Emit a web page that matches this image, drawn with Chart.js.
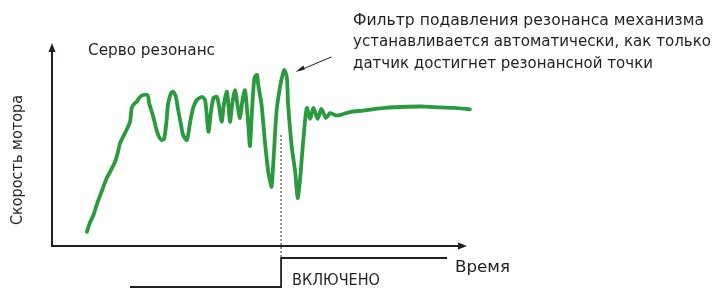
<!DOCTYPE html>
<html>
<head>
<meta charset="utf-8">
<script src="https://cdn.jsdelivr.net/npm/chart.js@4/dist/chart.umd.min.js"></script>
<style>
  html, body { margin: 0; padding: 0; background: #fff; }
  #wrap { width: 728px; height: 289px; position: relative; }
</style>
</head>
<body>
<div id="wrap"><canvas id="chart"></canvas></div>
<script>
"use strict";

// время (усл. ед.) и скорость мотора (усл. ед.)
const timeValues = [8.4, 9.2, 10.0, 10.6, 11.2, 12.1, 13.2, 14.0, 15.2, 15.9, 16.4, 17.6, 18.8, 19.2, 19.8, 20.4, 21.2, 22.0, 22.9, 23.2,
    23.4, 24.4, 25.2, 25.8, 26.4, 27.0, 27.5, 28.0, 28.7, 29.2, 29.8, 30.4, 31.1, 31.6, 32.5, 33.3, 34.0, 34.9, 36.1, 36.9,
    37.7, 38.3, 38.9, 39.7, 40.2, 40.9, 41.4, 42.1, 42.4, 42.9, 43.4, 44.1, 44.7, 45.3, 45.9, 46.5, 46.9, 47.3, 47.7, 48.2,
    48.6, 48.9, 49.4, 49.7, 50.5, 51.3, 52.1, 52.5, 52.9, 53.3, 54.1, 54.9, 55.5, 56.0, 56.6, 56.9, 57.8, 58.6, 59.2, 59.8,
    60.6, 61.4, 62.2, 63.0, 64.0, 64.9, 66.0, 67.0, 68.2, 69.4, 71.8, 75.0, 80.2, 85.5, 89.9, 93.5, 97.1, 100.7];
const speedValues = [7.0, 11.8, 15.3, 19.2, 22.7, 27.6, 33.5, 36.5, 41.5, 46.3, 50.7, 55.7, 61.2, 68.0, 70.0, 71.1, 73.4, 74.4, 74.4, 73.4,
    70.4, 63.7, 57.1, 53.7, 52.2, 52.7, 59.6, 70.4, 75.4, 76.0, 73.9, 67.0, 59.6, 54.7, 52.2, 61.2, 68.0, 71.9, 73.5, 71.9,
    56.3, 66.0, 72.8, 73.5, 69.5, 61.2, 69.5, 76.0, 71.9, 61.2, 69.5, 76.8, 69.5, 63.1, 71.9, 76.8, 69.5, 59.6, 49.3, 67.0,
    79.3, 83.4, 84.2, 79.3, 69.5, 51.4, 36.6, 32.5, 29.2, 39.9, 66.2, 77.8, 83.7, 86.7, 82.8, 69.5, 48.3, 36.6, 23.6, 33.5,
    53.2, 68.0, 62.6, 68.0, 62.6, 67.5, 63.1, 65.5, 64.5, 64.5, 66.0, 66.7, 68.0, 68.6, 68.7, 68.3, 68.0, 67.3];

// сигнал включения фильтра
const switchTimes = [18.8, 55.2, 95.2];
const switchLevels = [-20.2, -5.9, -5.9];
const filterTime = 55.2;
const markerRange = [54.7, -5.9];

const labels = {
    title: "Серво резонанс",
    yAxis: "Скорость мотора",
    xAxis: "Время",
    onState: "ВКЛЮЧЕНО",
    note: ["Фильтр подавления резонанса механизма",
        "устанавливается автоматически, как только",
        "датчик достигнет резонансной точки"]
};

const speedPoints = timeValues.map(function (t, i) { return { x: t, y: speedValues[i] }; });
const switchPoints = switchTimes.map(function (t, i) { return { x: t, y: switchLevels[i] }; });
const markerPoints = markerRange.map(function (v) { return { x: filterTime, y: v }; });

const fontFace = "'DejaVu Sans', Verdana, sans-serif";
const ink = "#231f20";

// растянуть надпись до нужной ширины
function fitText(ctx, text, x, y, width) {
    const w = ctx.measureText(text).width;
    ctx.save();
    ctx.translate(x, y);
    ctx.scale(width / w, 1);
    ctx.fillText(text, 0, 0);
    ctx.restore();
}

const decorPlugin = {
    id: "decor",
    afterDraw: function (chart) {
        const ctx = chart.ctx;
        const xs = chart.scales.x;
        const ys = chart.scales.y;
        const x0 = xs.getPixelForValue(0);
        const x1 = xs.getPixelForValue(100);
        const y0 = ys.getPixelForValue(0);
        const y1 = ys.getPixelForValue(100);

        ctx.save();
        ctx.strokeStyle = ink;
        ctx.fillStyle = ink;
        ctx.lineWidth = 2;
        ctx.beginPath();
        ctx.moveTo(x0, y1 + 6);
        ctx.lineTo(x0, y0);
        ctx.lineTo(x1 - 6, y0);
        ctx.stroke();
        // стрелки осей
        ctx.beginPath();
        ctx.moveTo(x0, y1);
        ctx.lineTo(x0 - 3.5, y1 + 9);
        ctx.lineTo(x0 + 3.5, y1 + 9);
        ctx.closePath();
        ctx.fill();
        ctx.beginPath();
        ctx.moveTo(x1, y0);
        ctx.lineTo(x1 - 9, y0 - 3.5);
        ctx.lineTo(x1 - 9, y0 + 3.5);
        ctx.closePath();
        ctx.fill();

        // стрелка к пику
        const px = xs.getPixelForValue(56.0);
        const py = ys.getPixelForValue(86.7);
        const tipX = px + 11, tipY = py + 2;
        ctx.lineWidth = 1;
        ctx.beginPath();
        ctx.moveTo(px + 47, py - 13);
        ctx.lineTo(tipX + 5, tipY - 2);
        ctx.stroke();
        ctx.beginPath();
        ctx.moveTo(tipX, tipY);
        ctx.lineTo(tipX + 8, tipY - 6.5);
        ctx.lineTo(tipX + 9.5, tipY - 2.5);
        ctx.closePath();
        ctx.fill();

        ctx.font = "15px " + fontFace;
        ctx.textBaseline = "middle";
        ctx.textAlign = "left";
        fitText(ctx, labels.title, 88, 51, 127);
        fitText(ctx, labels.note[0], 353, 21, 351);
        fitText(ctx, labels.note[1], 353, 42.5, 358);
        fitText(ctx, labels.note[2], 353, 64, 300);
        fitText(ctx, labels.xAxis, 455, 268, 55);
        fitText(ctx, labels.onState, 292, 281, 88);

        ctx.translate(18, 160);
        ctx.rotate(-Math.PI / 2);
        fitText(ctx, labels.yAxis, -65, 0, 130);
        ctx.restore();
    }
};

new Chart(document.getElementById("chart").getContext("2d"), {
    type: "line",
    data: {
        datasets: [{
            label: labels.yAxis,
            data: speedPoints,
            borderColor: "#2a9a3e",
            borderWidth: 3.8,
            tension: 0.25,
            pointRadius: 0,
            borderJoinStyle: "round",
            borderCapStyle: "round",
            clip: false
        }, {
            label: labels.onState,
            data: switchPoints,
            stepped: true,
            borderColor: ink,
            borderWidth: 1.8,
            pointRadius: 0,
            clip: false
        }, {
            label: "marker",
            data: markerPoints,
            borderColor: ink,
            borderWidth: 1,
            borderDash: [2, 2],
            pointRadius: 0,
            clip: false
        }]
    },
    options: {
        responsive: true,
        maintainAspectRatio: false,
        animation: false,
        layout: { padding: { left: 52, right: 261, top: 43, bottom: 43 } },
        scales: {
            x: { type: "linear", min: 0, max: 100, display: false },
            y: { type: "linear", min: 0, max: 100, display: false }
        },
        plugins: {
            legend: { display: false },
            tooltip: { enabled: false }
        }
    },
    plugins: [decorPlugin]
});
</script>
</body>
</html>
